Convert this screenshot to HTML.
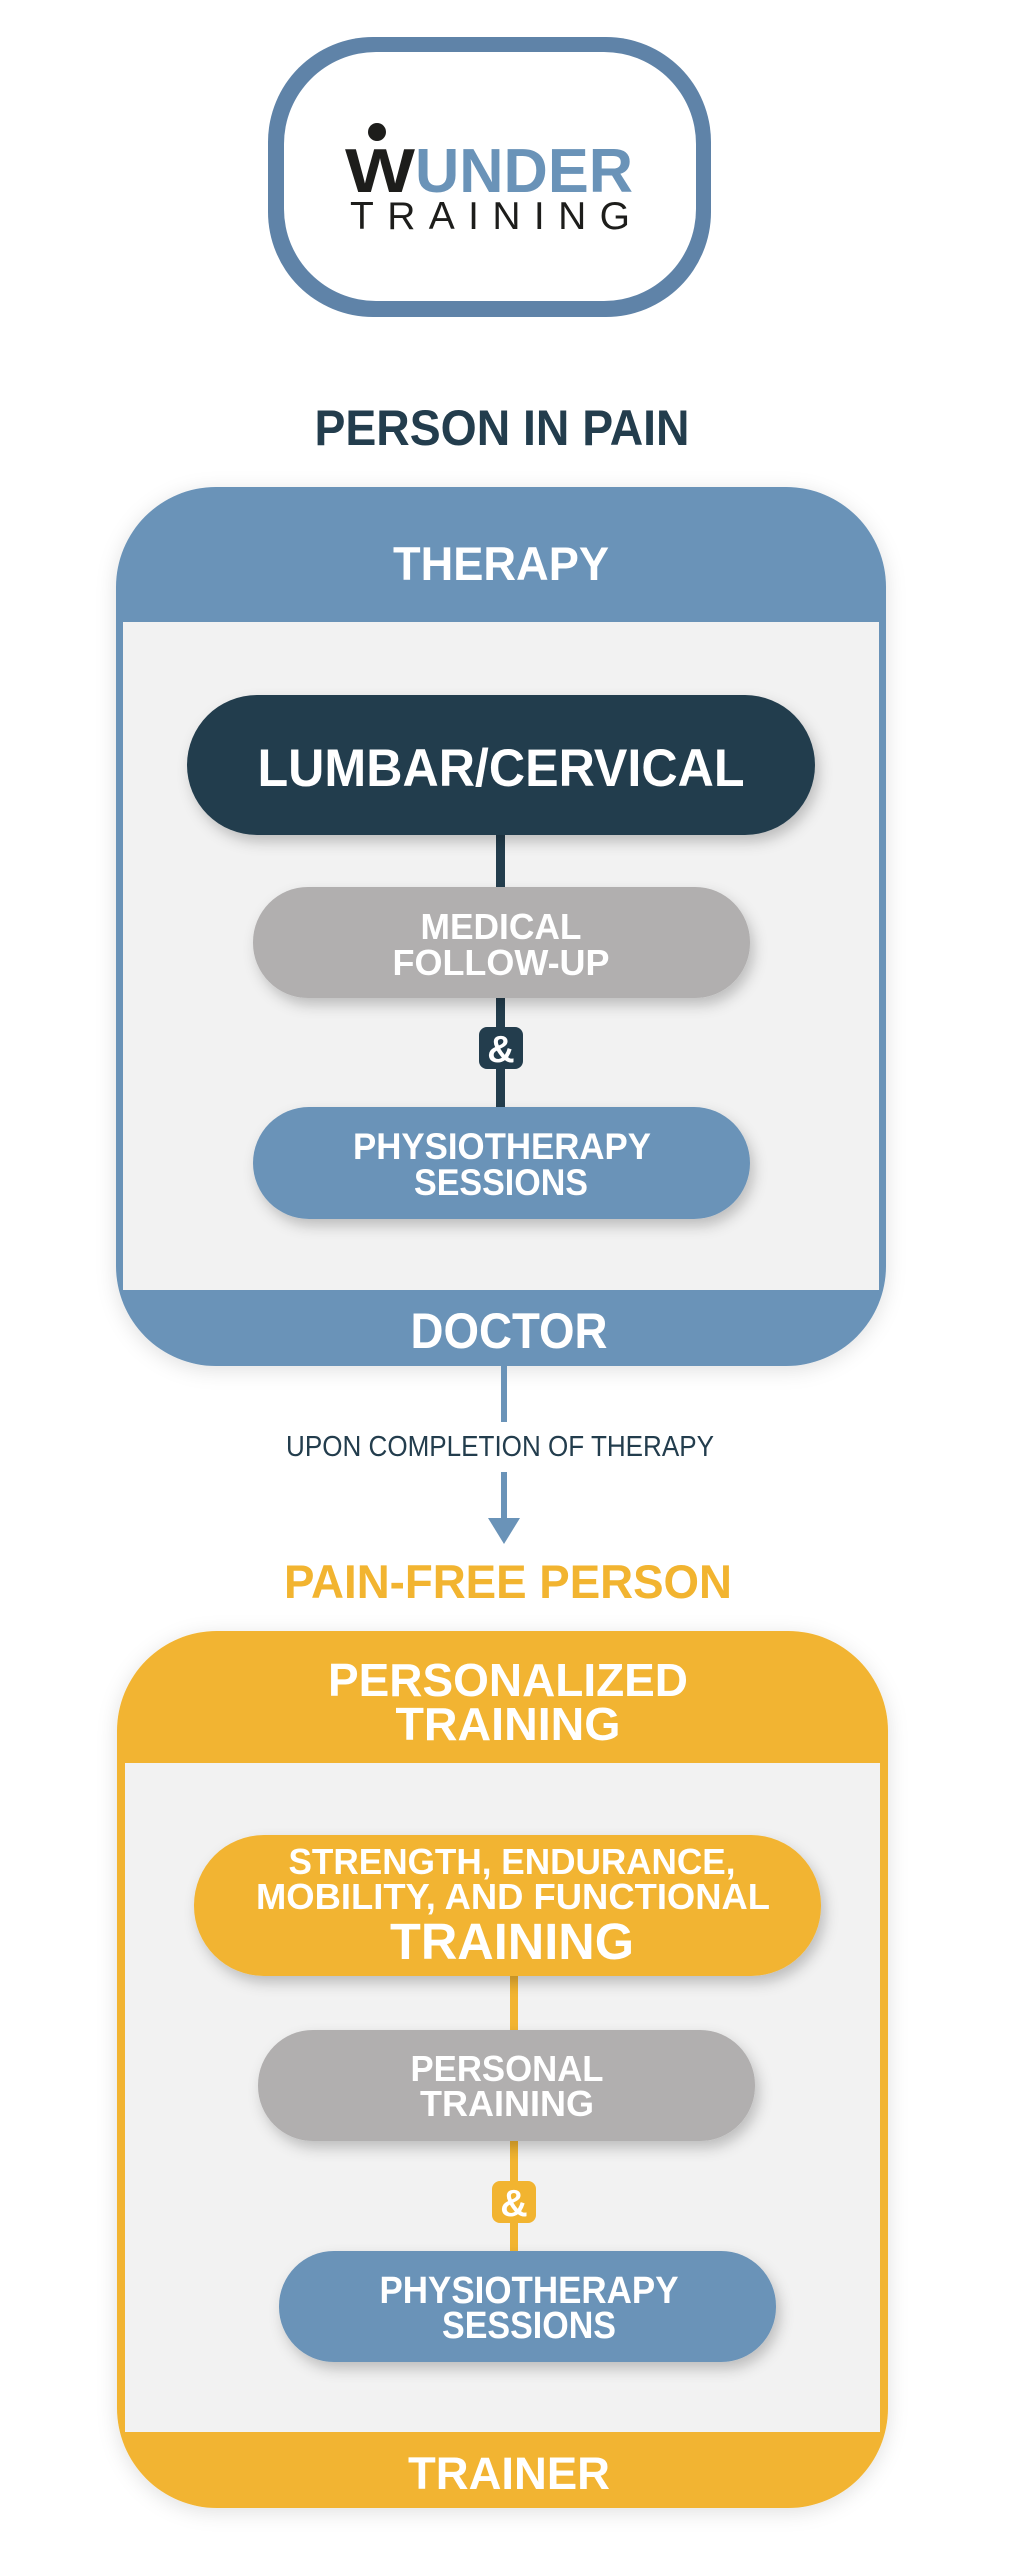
<!DOCTYPE html>
<html><head><meta charset="utf-8"><style>html,body{margin:0;padding:0;background:#fff}svg{display:block}text{font-family:"Liberation Sans",sans-serif;font-weight:bold}</style></head>
<body>
<svg width="1013" height="2560" viewBox="0 0 1013 2560" xmlns="http://www.w3.org/2000/svg">
<defs>
<filter id="sh" x="-20%" y="-20%" width="140%" height="160%"><feDropShadow dx="4" dy="7" stdDeviation="7" flood-color="#000" flood-opacity="0.22"/></filter>
<filter id="sb" x="-10%" y="-10%" width="120%" height="120%"><feDropShadow dx="0" dy="4" stdDeviation="10" flood-color="#000" flood-opacity="0.12"/></filter>
</defs>
<!-- logo -->
<rect x="268" y="37" width="443" height="280" rx="105" fill="#5f83a8"/>
<rect x="284" y="52" width="412" height="249" rx="92" fill="#fff"/>
<circle cx="377" cy="132" r="9" fill="#1d1d1b"/>
<text x="345" y="192" font-size="62" fill="#1d1d1b" textLength="70" lengthAdjust="spacingAndGlyphs">W</text>
<text x="415" y="192" font-size="62" fill="#6a93b8" textLength="218" lengthAdjust="spacingAndGlyphs">UNDER</text>
<text x="490" y="229" font-size="39" fill="#1d1d1b" style="font-weight:normal" text-anchor="middle" textLength="280" lengthAdjust="spacing">TRAINING</text>

<text x="502" y="445" font-size="50" fill="#233d4d" text-anchor="middle" textLength="375" lengthAdjust="spacingAndGlyphs">PERSON IN PAIN</text>

<!-- therapy box -->
<rect x="116" y="487" width="770" height="879" rx="100" fill="#6a93b8" filter="url(#sb)"/>
<rect x="123" y="622" width="756" height="668" fill="#f2f2f2"/>
<text x="501" y="580" font-size="47" fill="#fff" text-anchor="middle" textLength="216" lengthAdjust="spacingAndGlyphs">THERAPY</text>
<rect x="496" y="820" width="9" height="300" fill="#233d4d"/>
<rect x="187" y="695" width="628" height="140" rx="70" fill="#233d4d" filter="url(#sh)"/>
<text x="501" y="786" font-size="53" fill="#fff" text-anchor="middle" textLength="487" lengthAdjust="spacingAndGlyphs">LUMBAR/CERVICAL</text>
<rect x="253" y="887" width="497" height="111" rx="55" fill="#b1afaf" filter="url(#sh)"/>
<text x="501" y="939" font-size="36" fill="#fff" text-anchor="middle" textLength="161" lengthAdjust="spacingAndGlyphs">MEDICAL</text>
<text x="501" y="975" font-size="36" fill="#fff" text-anchor="middle" textLength="217" lengthAdjust="spacingAndGlyphs">FOLLOW-UP</text>
<rect x="479" y="1027" width="44" height="42" rx="8" fill="#233d4d"/>
<text x="501" y="1062" font-size="38" fill="#fff" text-anchor="middle">&amp;</text>
<rect x="253" y="1107" width="497" height="112" rx="56" fill="#6a93b8" filter="url(#sh)"/>
<text x="502" y="1159" font-size="37" fill="#fff" text-anchor="middle" textLength="298" lengthAdjust="spacingAndGlyphs">PHYSIOTHERAPY</text>
<text x="501" y="1195" font-size="37" fill="#fff" text-anchor="middle" textLength="174" lengthAdjust="spacingAndGlyphs">SESSIONS</text>
<text x="509" y="1348" font-size="50" fill="#fff" text-anchor="middle" textLength="197" lengthAdjust="spacingAndGlyphs">DOCTOR</text>

<!-- connector -->
<rect x="501" y="1366" width="6" height="56" fill="#6a93b8"/>
<text x="500" y="1456" font-size="29" fill="#233d4d" style="font-weight:normal" text-anchor="middle" textLength="428" lengthAdjust="spacingAndGlyphs">UPON COMPLETION OF THERAPY</text>
<rect x="501" y="1472" width="6" height="48" fill="#6a93b8"/>
<polygon points="488,1518 520,1518 504,1544" fill="#6a93b8"/>

<text x="508" y="1598" font-size="47" fill="#f2b430" text-anchor="middle" textLength="448" lengthAdjust="spacingAndGlyphs">PAIN-FREE PERSON</text>

<!-- training box -->
<rect x="117" y="1631" width="771" height="877" rx="100" fill="#f2b430" filter="url(#sb)"/>
<rect x="125" y="1763" width="755" height="669" fill="#f2f2f2"/>
<text x="508" y="1696" font-size="46" fill="#fff" text-anchor="middle" textLength="360" lengthAdjust="spacingAndGlyphs">PERSONALIZED</text>
<text x="508" y="1740" font-size="46" fill="#fff" text-anchor="middle" textLength="225" lengthAdjust="spacingAndGlyphs">TRAINING</text>
<rect x="510" y="1960" width="8" height="300" fill="#f2b430"/>
<rect x="194" y="1835" width="627" height="141" rx="70" fill="#f2b430" filter="url(#sh)"/>
<text x="512" y="1874" font-size="36" fill="#fff" text-anchor="middle" textLength="447" lengthAdjust="spacingAndGlyphs">STRENGTH, ENDURANCE,</text>
<text x="513" y="1909" font-size="36" fill="#fff" text-anchor="middle" textLength="514" lengthAdjust="spacingAndGlyphs">MOBILITY, AND FUNCTIONAL</text>
<text x="512" y="1959" font-size="51" fill="#fff" text-anchor="middle" textLength="244" lengthAdjust="spacingAndGlyphs">TRAINING</text>
<rect x="258" y="2030" width="497" height="111" rx="55" fill="#b1afaf" filter="url(#sh)"/>
<text x="507" y="2081" font-size="36" fill="#fff" text-anchor="middle" textLength="193" lengthAdjust="spacingAndGlyphs">PERSONAL</text>
<text x="507" y="2116" font-size="36" fill="#fff" text-anchor="middle" textLength="174" lengthAdjust="spacingAndGlyphs">TRAINING</text>
<rect x="492" y="2181" width="44" height="42" rx="8" fill="#f2b430"/>
<text x="514" y="2216" font-size="38" fill="#fff" text-anchor="middle">&amp;</text>
<rect x="279" y="2251" width="497" height="111" rx="55" fill="#6a93b8" filter="url(#sh)"/>
<text x="529" y="2303" font-size="38" fill="#fff" text-anchor="middle" textLength="299" lengthAdjust="spacingAndGlyphs">PHYSIOTHERAPY</text>
<text x="529" y="2338" font-size="38" fill="#fff" text-anchor="middle" textLength="174" lengthAdjust="spacingAndGlyphs">SESSIONS</text>
<text x="509" y="2489" font-size="45" fill="#fff" text-anchor="middle" textLength="202" lengthAdjust="spacingAndGlyphs">TRAINER</text>
</svg>
</body></html>
